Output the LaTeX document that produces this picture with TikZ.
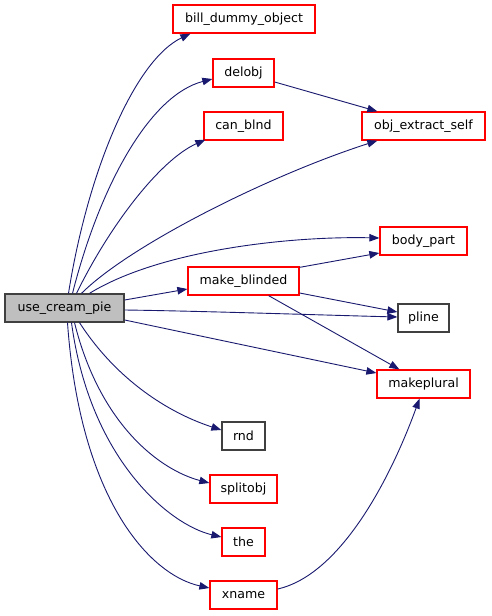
\documentclass[tikz,border=0pt]{standalone}
\usepackage{fontspec}
\setmainfont{DejaVu Sans}
\usetikzlibrary{arrows.meta}
\definecolor{edgec}{RGB}{25,25,112}
\definecolor{redc}{RGB}{255,0,0}
\definecolor{greyf}{RGB}{191,191,191}
\definecolor{darkb}{RGB}{64,64,64}
\tikzset{
  box/.style={draw, line width=1.3pt, inner sep=0pt, minimum height=28pt, text=black, font=\fontsize{12.6}{14}\selectfont},
  fn/.style={box, draw=redc},
  fnb/.style={box, draw=darkb},
  root/.style={box, draw=darkb, fill=greyf},
  edge/.style={draw=edgec, line width=0.9pt, -{Triangle[length=10pt,width=7.5pt]}}
}
\begin{document}
\begin{tikzpicture}[x=1pt,y=-1pt]
\fill[white] (0,0) rectangle (491,616);
\useasboundingbox (0,0) rectangle (491,616);
\node[root, minimum width=119pt] (ucp) at (64.5,308) {use\_cream\_pie};
\node[fn, minimum width=142pt] (bdo) at (244,19) {bill\_dummy\_object};
\node[fn, minimum width=61pt] (del) at (243.5,73) {delobj};
\node[fn, minimum width=79pt] (can) at (243.5,126) {can\_blnd};
\node[fn, minimum width=123pt] (oes) at (423.5,126) {obj\_extract\_self};
\node[fn, minimum width=87pt] (bp) at (423.5,241) {body\_part};
\node[fn, minimum width=111pt] (mb) at (243.5,281) {make\_blinded};
\node[fnb, minimum width=51pt] (pl) at (423.5,318) {pline};
\node[fn, minimum width=93pt] (mp) at (423.5,384) {makeplural};
\node[fnb, minimum width=43pt] (rnd) at (243.5,436) {rnd};
\node[fn, minimum width=67pt] (spl) at (243.5,489) {splitobj};
\node[fn, minimum width=43pt] (the) at (243.5,542) {the};
\node[fn, minimum width=67pt] (xn) at (243.5,595) {xname};

\path[edge] ([xshift=4pt]ucp.north) .. controls (88,170) and (135,60) .. ([xshift=18pt]bdo.south west);
\path[edge] ([xshift=8pt]ucp.north) .. controls (100,185) and (150,95) .. ([yshift=-6pt]del.west);
\path[edge] ([xshift=12pt]ucp.north) .. controls (110,225) and (160,160) .. ([xshift=2pt,yshift=1pt]can.south west);
\path[edge] ([xshift=17pt]ucp.north) .. controls (130,245) and (270,175) .. ([xshift=16pt]oes.south west);
\path[edge] ([xshift=25pt]ucp.north) .. controls (160,250) and (290,236) .. ([yshift=3pt]bp.west);
\path[edge] ([yshift=8pt]ucp.east) -- ([yshift=-8pt]mb.west);
\path[edge] ([yshift=-2pt]ucp.east) .. controls (200,311) and (320,315) .. ([yshift=1pt]pl.west);
\path[edge] ([yshift=-12pt]ucp.east) -- ([yshift=11pt]mp.west);
\path[edge] ([xshift=15pt]ucp.south) .. controls (120,385) and (175,415) .. ([yshift=6pt]rnd.west);
\path[edge] ([xshift=10pt]ucp.south) .. controls (100,425) and (160,470) .. ([yshift=6pt]spl.west);
\path[edge] ([xshift=7pt]ucp.south) .. controls (90,460) and (170,525) .. ([yshift=5pt]the.west);
\path[edge] ([xshift=3pt]ucp.south) .. controls (80,500) and (150,575) .. ([yshift=7pt]xn.west);

\path[edge] ([yshift=-9pt]del.east) -- ([xshift=16pt]oes.north west);
\path[edge] ([yshift=-1pt]mb.north east) -- ([yshift=-12pt]bp.west);
\path[edge] ([yshift=-12pt]mb.east) -- ([yshift=6pt]pl.west);
\path[edge] ([xshift=-31pt]mb.south east) -- ([xshift=23pt]mp.north west);
\path[edge] ([yshift=6pt]xn.east) .. controls (340,575) and (390,480) .. ([xshift=-4pt]mp.south);
\end{tikzpicture}
\end{document}
